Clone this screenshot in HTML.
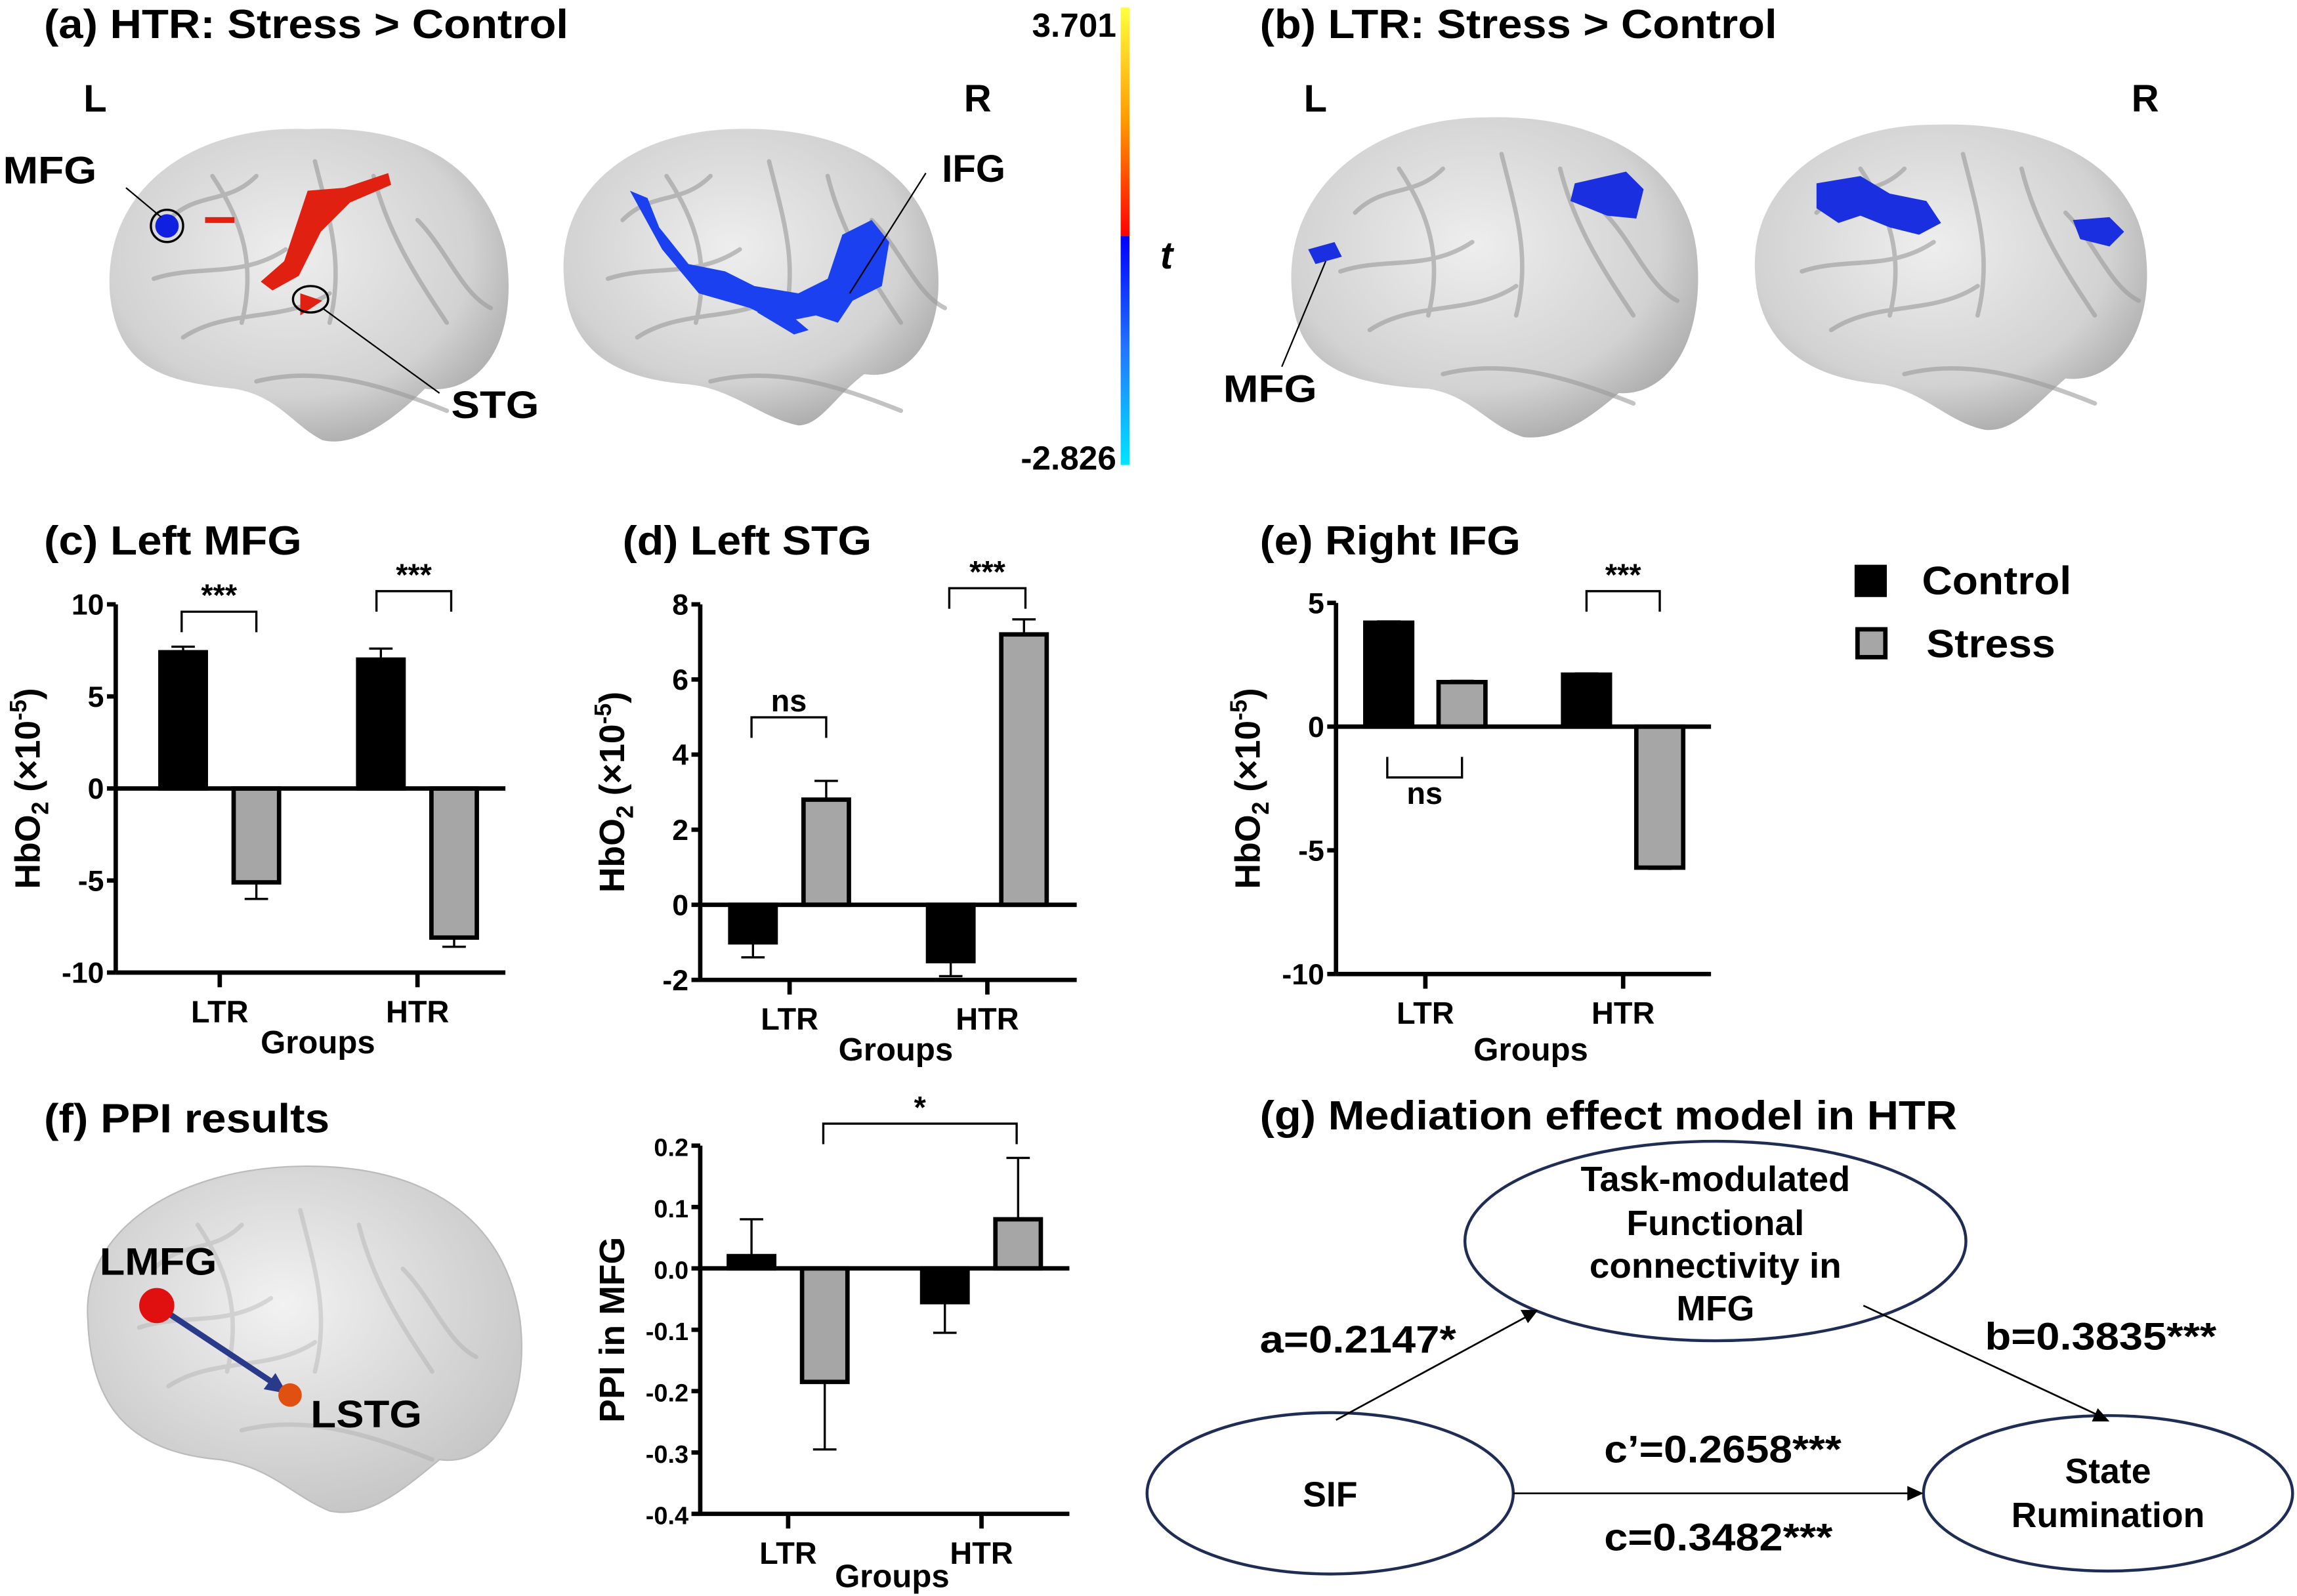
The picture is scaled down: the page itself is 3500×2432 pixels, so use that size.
<!DOCTYPE html>
<html><head><meta charset="utf-8"><style>
html,body{margin:0;padding:0;background:#fff}
svg{display:block}
text{font-family:"Liberation Sans",Arial,sans-serif;font-weight:bold;fill:#000}
</style></head><body>
<svg id="fig" width="3500" height="2432" viewBox="0 0 1568 1088" preserveAspectRatio="none" xmlns="http://www.w3.org/2000/svg">
<defs>
<radialGradient id="brainG" cx="45%" cy="40%" r="65%"><stop offset="0" stop-color="#eeeeee"/><stop offset="0.7" stop-color="#d2d2d2"/><stop offset="1" stop-color="#a8a8a8"/></radialGradient>
<radialGradient id="glassG" cx="45%" cy="40%" r="65%"><stop offset="0" stop-color="#f2f2f2"/><stop offset="1" stop-color="#c4c4c4"/></radialGradient>
<linearGradient id="cbar" x1="0" y1="0" x2="0" y2="1"><stop offset="0" stop-color="#ffff40"/><stop offset="0.25" stop-color="#ff9900"/><stop offset="0.5" stop-color="#ff0000"/><stop offset="0.5" stop-color="#0000ff"/><stop offset="0.75" stop-color="#2277ff"/><stop offset="1" stop-color="#00e5ff"/></linearGradient>
<g id="sulci" fill="none" stroke="#9a9a9a" stroke-width="3" stroke-linecap="round" opacity="0.6">
<path d="M30,60 C50,40 70,50 90,30"/><path d="M20,100 C50,90 80,100 110,80"/><path d="M40,140 C70,120 110,130 140,110"/><path d="M60,30 C80,60 90,90 80,130"/><path d="M130,20 C140,60 150,90 140,130"/><path d="M170,30 C180,70 200,100 220,130"/><path d="M90,170 C130,160 170,170 220,190"/><path d="M200,60 C220,80 230,110 250,120"/>
</g>
</defs>

<text x="30" y="26" font-size="28" textLength="358" lengthAdjust="spacingAndGlyphs">(a) HTR: Stress &gt; Control</text>
<text x="860" y="26" font-size="28" textLength="353" lengthAdjust="spacingAndGlyphs">(b) LTR: Stress &gt; Control</text>
<text x="30" y="378" font-size="28" textLength="176" lengthAdjust="spacingAndGlyphs">(c) Left MFG</text>
<text x="425" y="378" font-size="28" textLength="170" lengthAdjust="spacingAndGlyphs">(d) Left STG</text>
<text x="860" y="378" font-size="28" textLength="178" lengthAdjust="spacingAndGlyphs">(e) Right IFG</text>
<text x="30" y="772" font-size="28" textLength="195" lengthAdjust="spacingAndGlyphs">(f) PPI results</text>
<text x="860" y="770" font-size="28" textLength="476" lengthAdjust="spacingAndGlyphs">(g) Mediation effect model in HTR</text>

<g>
<path d="M75,200 C70,130 130,85 210,88 C280,85 330,110 345,170 C355,230 330,270 290,265 C265,290 240,305 220,300 C200,290 190,270 160,265 C110,260 80,250 75,200Z" fill="url(#brainG)"/>
<use href="#sulci" x="85" y="90"/>
<path d="M140,148 h20 v4 h-20z M210,130 l25,-2 l30,-10 l2,8 l-28,12 l-20,20 l-15,30 l-18,10 l-8,-6 l16,-14 l10,-30z M205,200 l15,5 l-15,10z" fill="#e02010"/>
<circle cx="114" cy="154" r="8" fill="#1020e0"/>
<circle cx="114" cy="154" r="11" fill="none" stroke="#000" stroke-width="1.5"/>
<ellipse cx="212" cy="204" rx="12" ry="9" fill="none" stroke="#000" stroke-width="1.5"/>
<line x1="86" y1="128" x2="110" y2="148" stroke="#000" stroke-width="1"/>
<line x1="220" y1="210" x2="300" y2="268" stroke="#000" stroke-width="1"/>
</g>
<g>
<path d="M385,190 C380,130 430,90 500,88 C580,85 635,120 640,180 C645,230 620,260 590,255 C570,270 560,290 545,290 C520,285 500,265 470,262 C420,258 388,240 385,190Z" fill="url(#brainG)"/>
<use href="#sulci" x="395" y="90"/>
<path d="M430,130 l12,5 l8,20 l20,25 l25,5 l20,10 l30,5 l20,-10 l10,-30 l20,-10 l12,15 l-5,30 l-20,10 l-10,15 l-15,-5 l-25,5 l-20,-10 l-35,-10 l-25,-30z M520,205 l20,10 l12,10 l-10,3 l-25,-15z" fill="#1a40f0"/>
<line x1="632" y1="118" x2="580" y2="200" stroke="#000" stroke-width="1"/>
</g>
<text x="57" y="76" font-size="26">L</text>
<text x="658" y="76" font-size="26">R</text>
<text x="2" y="125" font-size="26" textLength="64" lengthAdjust="spacingAndGlyphs">MFG</text>
<text x="643" y="124" font-size="26">IFG</text>
<text x="308" y="285" font-size="26" textLength="60" lengthAdjust="spacingAndGlyphs">STG</text>

<rect x="765" y="5" width="6" height="312" fill="url(#cbar)"/>
<text x="762" y="25" font-size="23" text-anchor="end">3.701</text>
<text x="762" y="320" font-size="23" text-anchor="end">-2.826</text>
<text x="792" y="183" font-size="26" font-style="italic">t</text>

<g>
<path d="M882,200 C875,130 935,80 1015,80 C1090,78 1150,110 1158,170 C1165,230 1140,270 1105,268 C1080,290 1060,300 1040,298 C1015,290 1005,270 975,265 C920,262 885,250 882,200Z" fill="url(#brainG)"/>
<use href="#sulci" x="895" y="85"/>
<path d="M1075,125 l35,-8 l12,12 l-5,20 l-20,-2 l-25,-10z M893,170 l18,-5 l5,10 l-18,5z" fill="#1a30e0"/>
<line x1="905" y1="178" x2="875" y2="250" stroke="#000" stroke-width="1"/>
</g>
<g>
<path d="M1198,185 C1195,125 1250,85 1320,85 C1400,82 1460,115 1465,175 C1470,225 1445,262 1410,258 C1390,275 1375,295 1355,293 C1330,288 1315,268 1285,262 C1235,258 1200,235 1198,185Z" fill="url(#brainG)"/>
<use href="#sulci" x="1210" y="85"/>
<path d="M1240,125 l30,-5 l20,12 l25,5 l10,15 l-15,8 l-20,-5 l-20,-8 l-15,5 l-15,-10z M1415,150 l25,-2 l10,10 l-10,10 l-20,-5z" fill="#1a30e0"/>
</g>
<text x="890" y="76" font-size="26">L</text>
<text x="1455" y="76" font-size="26">R</text>
<text x="835" y="274" font-size="26" textLength="64" lengthAdjust="spacingAndGlyphs">MFG</text>

<g>
<rect x="1266" y="385" width="22" height="22" fill="#000"/>
<text x="1312" y="405" font-size="27" textLength="102" lengthAdjust="spacingAndGlyphs">Control</text>
<rect x="1268" y="429" width="19" height="19" fill="#a6a6a6" stroke="#000" stroke-width="3"/>
<text x="1315" y="448" font-size="27" textLength="88" lengthAdjust="spacingAndGlyphs">Stress</text>
</g>

<g>
<path d="M60,900 C55,840 120,795 210,795 C290,795 345,830 355,900 C362,960 335,1000 300,995 C270,1020 250,1035 225,1030 C200,1020 185,1000 150,995 C90,990 62,960 60,900Z" fill="url(#glassG)" stroke="#bbb"/>
<use href="#sulci" x="75" y="805" opacity="0.5"/>
<line x1="107" y1="890" x2="190" y2="945" stroke="#2a3a8a" stroke-width="4"/>
<polygon points="196,950 180,947 188,936" fill="#2a3a8a"/>
<circle cx="107" cy="890" r="12" fill="#e01010"/>
<circle cx="198" cy="951" r="8" fill="#e05010"/>
<text x="68" y="869" font-size="26" textLength="80" lengthAdjust="spacingAndGlyphs">LMFG</text>
<text x="212" y="973" font-size="26" textLength="76" lengthAdjust="spacingAndGlyphs">LSTG</text>
</g>

<g>
<ellipse cx="1171" cy="846" rx="171" ry="68" fill="#fff" stroke="#1f2d55" stroke-width="2"/>
<text x="1171" y="812" font-size="24" text-anchor="middle" textLength="184" lengthAdjust="spacingAndGlyphs">Task-modulated</text>
<text x="1171" y="842" font-size="24" text-anchor="middle">Functional</text>
<text x="1171" y="871" font-size="24" text-anchor="middle" textLength="172" lengthAdjust="spacingAndGlyphs">connectivity in</text>
<text x="1171" y="900" font-size="24" text-anchor="middle">MFG</text>
<ellipse cx="908" cy="1018" rx="125" ry="55" fill="#fff" stroke="#1f2d55" stroke-width="2"/>
<text x="908" y="1027" font-size="24" text-anchor="middle">SIF</text>
<ellipse cx="1439" cy="1018" rx="126" ry="53" fill="#fff" stroke="#1f2d55" stroke-width="2"/>
<text x="1439" y="1011" font-size="24" text-anchor="middle">State</text>
<text x="1439" y="1041" font-size="24" text-anchor="middle">Rumination</text>
<line x1="912" y1="968" x2="1045" y2="896" stroke="#000" stroke-width="1.2"/>
<polygon points="1050,893 1038,893 1043,902" fill="#000"/>
<line x1="1272" y1="890" x2="1435" y2="966" stroke="#000" stroke-width="1.2"/>
<polygon points="1440,969 1428,969 1432,960" fill="#000"/>
<line x1="1033" y1="1018" x2="1305" y2="1018" stroke="#000" stroke-width="1.2"/>
<polygon points="1313,1018 1302,1013 1302,1023" fill="#000"/>
<text x="860" y="922" font-size="26" textLength="134" lengthAdjust="spacingAndGlyphs">a=0.2147*</text>
<text x="1355" y="920" font-size="26" textLength="158" lengthAdjust="spacingAndGlyphs">b=0.3835***</text>
<text x="1095" y="997" font-size="26" textLength="162" lengthAdjust="spacingAndGlyphs">c’=0.2658***</text>
<text x="1095" y="1057" font-size="26" textLength="156" lengthAdjust="spacingAndGlyphs">c=0.3482***</text>
</g>

<g id="charts"></g>
</svg>
<script>
const groups = ["LTR", "HTR"];
const mfgControl = [7.4, 7.0];
const mfgStress = [-5.1, -8.1];
const mfgControlErr = [0.3, 0.6];
const mfgStressErr = [0.9, 0.5];
const mfgTicks = [10, 5, 0, -5, -10];
const stgControl = [-1.0, -1.5];
const stgStress = [2.8, 7.2];
const stgControlErr = [0.4, 0.4];
const stgStressErr = [0.5, 0.4];
const stgTicks = [8, 6, 4, 2, 0, -2];
const ifgControl = [4.2, 2.1];
const ifgStress = [1.8, -5.7];
const ifgControlErr = [0.05, 0.05];
const ifgStressErr = [0.05, 0.05];
const ifgTicks = [5, 0, -5, -10];
const ppiControl = [0.02, -0.055];
const ppiStress = [-0.185, 0.08];
const ppiControlErr = [0.06, 0.05];
const ppiStressErr = [0.11, 0.1];
const ppiTicks = [0.2, 0.1, 0.0, -0.1, -0.2, -0.3, -0.4];
const ppiTickLabels = ["0.2", "0.1", "0.0", "-0.1", "-0.2", "-0.3", "-0.4"];

const NS = "http://www.w3.org/2000/svg";
const root = document.getElementById("charts");
function mk(tag, attrs, parent) {
  const e = document.createElementNS(NS, tag);
  for (const k in attrs) e.setAttribute(k, attrs[k]);
  (parent || root).appendChild(e);
  return e;
}
function chart(cfg) {
  const g = mk("g", {});
  
  
  const ymax = cfg.ticks[0], ymin = cfg.ticks[cfg.ticks.length - 1];
  const y = v => cfg.top + (ymax - v) / (ymax - ymin) * (cfg.bottom - cfg.top);
  const ya = mk("line", {x1: cfg.ax, y1: cfg.top, x2: cfg.ax, y2: cfg.bottom, stroke: "#000", "stroke-width": 3}, g);
  
  
  cfg.ticks.forEach((t, i) => {
    mk("line", {x1: cfg.ax - 6, y1: y(t), x2: cfg.ax, y2: y(t), stroke: "#000", "stroke-width": 3}, g);
    const tl = mk("text", {x: cfg.ax - 8, y: y(t) + 7, "font-size": cfg.tfs || 20, "text-anchor": "end"}, g);
    tl.textContent = cfg.labels ? cfg.labels[i] : String(t);
    
    
  });
  groups.forEach((grp, i) => {
    const cx = cfg.gx[i];
    const bw = cfg.bw;
    [[cfg.control[i], cfg.cErr[i], cx - cfg.off, "#000"], [cfg.stress[i], cfg.sErr[i], cx + cfg.off, "#a6a6a6"]].forEach(([v, e, bx, col], k) => {
      const y0 = y(0), y1 = y(v);
      const r = mk("rect", {x: bx - bw / 2, y: Math.min(y0, y1), width: bw, height: Math.abs(y1 - y0), fill: col, stroke: "#000", "stroke-width": 3}, g);
      
      
      const ye = y(v + (v >= 0 ? e : -e));
      mk("line", {x1: bx, y1: y1, x2: bx, y2: ye, stroke: "#000", "stroke-width": 1.5}, g);
      mk("line", {x1: bx - 8, y1: ye, x2: bx + 8, y2: ye, stroke: "#000", "stroke-width": 1.5}, g);
    });
    const lab = mk("text", {x: cx, y: cfg.bottom + 34, "font-size": 21, "text-anchor": "middle"}, g);
    lab.textContent = grp;
    
    
    mk("line", {x1: cx, y1: cfg.bottom, x2: cx, y2: cfg.bottom + 10, stroke: "#000", "stroke-width": 3}, g);
  });
  mk("line", {x1: cfg.ax, y1: y(0), x2: cfg.right, y2: y(0), stroke: "#000", "stroke-width": 3}, g);
  const xa = mk("line", {x1: cfg.ax, y1: cfg.bottom, x2: cfg.right, y2: cfg.bottom, stroke: "#000", "stroke-width": 3}, g);
  
  
  const xt = mk("text", {x: (cfg.ax + cfg.right) / 2 + 5, y: cfg.bottom + (cfg.xtOff || 55), "font-size": 22, "text-anchor": "middle"}, g);
  xt.textContent = "Groups";
  
  
  const yt = mk("text", {transform: `translate(${cfg.ax - 52},${(cfg.top + cfg.bottom) / 2}) rotate(-90)`, "font-size": 24, "text-anchor": "middle"}, g);
  
  
  if (cfg.ppi) { yt.textContent = "PPI in MFG"; }
  else {
    yt.innerHTML = 'HbO<tspan font-size="16" dy="6">2</tspan><tspan dy="-6"> (×10</tspan><tspan font-size="16" dy="-9">-5</tspan><tspan dy="9">)</tspan>';
  }
  cfg.sig.forEach(s => {
    const b = mk("path", {d: `M${s.x1},${s.y + 14} V${s.y} H${s.x2} V${s.y + 14}`, fill: "none", stroke: "#000", "stroke-width": 1.5}, g);
    if (s.down) b.setAttribute("d", `M${s.x1},${s.y - 14} V${s.y} H${s.x2} V${s.y - 14}`);
    
    
    const st = mk("text", {x: (s.x1 + s.x2) / 2, y: s.down ? s.y + 18 : s.y - 4, "font-size": 21, "text-anchor": "middle"}, g);
    st.textContent = s.t;
    
    
  });
}
chart({name: "chart-left-mfg", ax: 79, top: 412, bottom: 663, right: 345, ticks: mfgTicks, gx: [150, 285], off: 25, bw: 31,
  control: mfgControl, stress: mfgStress, cErr: mfgControlErr, sErr: mfgStressErr, xtOff: 55,
  sig: [{x1: 124, x2: 175, y: 417, t: "***"}, {x1: 257, x2: 308, y: 403, t: "***"}]});
chart({name: "chart-left-stg", ax: 478, top: 412, bottom: 668, right: 735, ticks: stgTicks, gx: [539, 674], off: 25, bw: 31,
  control: stgControl, stress: stgStress, cErr: stgControlErr, sErr: stgStressErr, xtOff: 55,
  sig: [{x1: 513, x2: 564, y: 489, t: "ns"}, {x1: 648, x2: 700, y: 401, t: "***"}]});
chart({name: "chart-right-ifg", ax: 912, top: 411, bottom: 664, right: 1168, ticks: ifgTicks, gx: [973, 1108], off: 25, bw: 32,
  control: ifgControl, stress: ifgStress, cErr: ifgControlErr, sErr: ifgStressErr, xtOff: 59,
  sig: [{x1: 947, x2: 998, y: 530, t: "ns", down: true}, {x1: 1083, x2: 1133, y: 403, t: "***"}]});
chart({name: "chart-ppi-mfg", ppi: true, ax: 478, top: 781, bottom: 1032, right: 730, ticks: ppiTicks, labels: ppiTickLabels, tfs: 17, gx: [538, 670], off: 25, bw: 31,
  control: ppiControl, stress: ppiStress, cErr: ppiControlErr, sErr: ppiStressErr, xtOff: 50,
  sig: [{x1: 562, x2: 694, y: 766, t: "*"}]});
</script>
</body></html>
